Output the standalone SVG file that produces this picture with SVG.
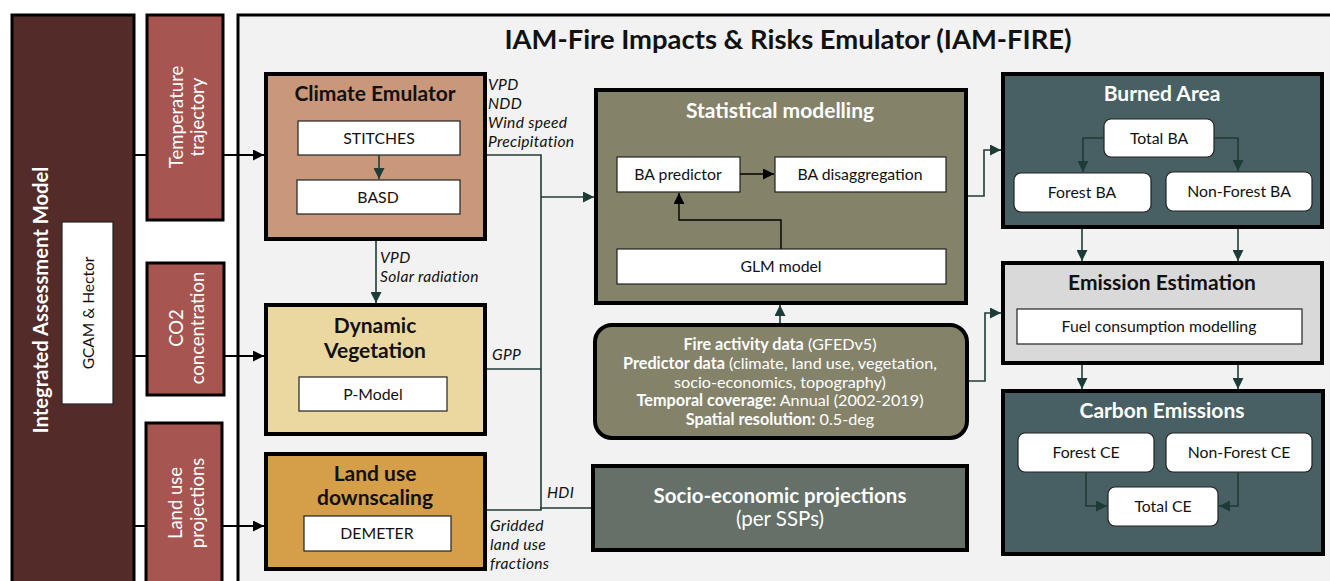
<svg xmlns="http://www.w3.org/2000/svg" width="1330" height="581" viewBox="0 0 1330 581">
<defs>
<marker id="ab" viewBox="0 0 10 10" refX="10" refY="5" markerWidth="11" markerHeight="11" markerUnits="userSpaceOnUse" orient="auto"><path d="M0,0 L10,5 L0,10 z" fill="#000"/></marker>
<marker id="at" viewBox="0 0 10 10" refX="10" refY="5" markerWidth="11" markerHeight="11" markerUnits="userSpaceOnUse" orient="auto"><path d="M0,0 L10,5 L0,10 z" fill="#1e3c37"/></marker>
<style>
text{font-family:"Lato","Liberation Sans",sans-serif;}
.big{stroke:#000;stroke-width:4;}
.inner{fill:#fff;stroke:#222;stroke-width:1.2;}
.t{font-size:15.8px;fill:#111;text-anchor:middle;}
.h{font-size:21px;font-weight:bold;text-anchor:middle;}
.w{fill:#fff;}
.k{fill:#111;}
.lab{font-size:15.6px;font-style:italic;fill:#111;letter-spacing:0.3px;}
.rot{font-size:18.5px;fill:#fff;text-anchor:middle;dominant-baseline:central;}
.cb{fill:none;stroke:#000;stroke-width:2;}
.ct{fill:none;stroke:#1e3c37;stroke-width:1.6;}
</style>
</defs>
<rect width="1330" height="581" fill="#fff"/>

<g id="panel">
<rect x="238" y="15" width="1100" height="580" fill="#f2f2f2" stroke="#000" stroke-width="3"/>
<text x="788" y="49" style="font-size:27.4px;font-weight:bold;text-anchor:middle;fill:#111;">IAM-Fire Impacts &amp; Risks Emulator (IAM-FIRE)</text>
</g>

<g id="iam">
<rect x="12" y="15" width="122" height="580" fill="#532b28" stroke="#000" stroke-width="3"/>
<text transform="translate(40,300) rotate(-90)" style="font-size:20.2px;font-weight:bold;fill:#fff;text-anchor:middle;dominant-baseline:central;">Integrated Assessment Model</text>
</g>
<g id="gcam">
<rect x="62" y="222" width="51" height="182" fill="#fff" stroke="#222" stroke-width="1.2"/>
<text transform="translate(88,313) rotate(-90)" style="font-size:15.5px;fill:#111;text-anchor:middle;dominant-baseline:central;">GCAM &amp; Hector</text>
</g>

<g id="temp">
<rect x="147" y="15" width="76" height="205" fill="#a65550" stroke="#000" stroke-width="3"/>
<text transform="translate(176,117) rotate(-90)" class="rot">Temperature</text>
<text transform="translate(197,117) rotate(-90)" class="rot">trajectory</text>
</g>
<g id="co2">
<rect x="147" y="263" width="77" height="132" fill="#a65550" stroke="#000" stroke-width="3"/>
<text transform="translate(176,328) rotate(-90)" class="rot">CO2</text>
<text transform="translate(197,328) rotate(-90)" class="rot">concentration</text>
</g>
<g id="landproj">
<rect x="146" y="423" width="76" height="180" fill="#a65550" stroke="#000" stroke-width="3"/>
<text transform="translate(175,503) rotate(-90)" class="rot">Land use</text>
<text transform="translate(197,503) rotate(-90)" class="rot">projections</text>
</g>

<g id="climate">
<rect x="266" y="74" width="219" height="165" fill="#c9977a" class="big"/>
<text x="375" y="101" class="h k">Climate Emulator</text>
<rect x="298" y="121" width="162" height="34" class="inner"/>
<text x="379" y="143.5" class="t">STITCHES</text>
<rect x="297" y="180" width="163" height="34" class="inner"/>
<text x="378" y="202.5" class="t">BASD</text>
</g>

<g id="dynveg">
<rect x="266" y="305" width="219" height="129" fill="#ebd8a0" class="big"/>
<text x="375" y="333" class="h k">Dynamic</text>
<text x="375" y="358" class="h k">Vegetation</text>
<rect x="299" y="377" width="148" height="34" class="inner"/>
<text x="373" y="399.5" class="t">P-Model</text>
</g>

<g id="landds">
<rect x="266" y="454" width="219" height="115" fill="#d59e48" class="big"/>
<text x="375" y="481" class="h k">Land use</text>
<text x="375" y="505" class="h k">downscaling</text>
<rect x="304" y="516" width="147" height="35" class="inner"/>
<text x="377" y="539" class="t">DEMETER</text>
</g>

<g id="labels">
<text x="488" y="90" class="lab">VPD</text>
<text x="488" y="109" class="lab">NDD</text>
<text x="488" y="128" class="lab">Wind speed</text>
<text x="488" y="147" class="lab">Precipitation</text>
<text x="380" y="263" class="lab">VPD</text>
<text x="380" y="282" class="lab">Solar radiation</text>
<text x="492" y="360" class="lab">GPP</text>
<text x="547" y="498" class="lab">HDI</text>
<text x="490" y="531" class="lab">Gridded</text>
<text x="490" y="550" class="lab">land use</text>
<text x="490" y="569" class="lab">fractions</text>
</g>

<g id="stat">
<rect x="596" y="90" width="370" height="213" fill="#84836a" class="big"/>
<text x="780" y="118" class="h w">Statistical modelling</text>
<rect x="617" y="157" width="123" height="35" class="inner"/>
<text x="678" y="180" class="t">BA predictor</text>
<rect x="775" y="157" width="171" height="35" class="inner"/>
<text x="860" y="180" class="t">BA disaggregation</text>
<rect x="617" y="249" width="329" height="35" class="inner"/>
<text x="781" y="272" class="t">GLM model</text>
</g>

<g id="fire">
<rect x="595" y="325" width="372" height="113" rx="17" fill="#84836a" class="big"/>
<g style="font-size:16.2px;fill:#fff;text-anchor:middle;">
<text x="780" y="349.5"><tspan font-weight="bold">Fire activity data</tspan> (GFEDv5)</text>
<text x="780" y="368.5"><tspan font-weight="bold">Predictor data</tspan> (climate, land use, vegetation,</text>
<text x="780" y="387.5">socio-economics, topography)</text>
<text x="780" y="405.5"><tspan font-weight="bold">Temporal coverage:</tspan> Annual (2002-2019)</text>
<text x="780" y="424.5"><tspan font-weight="bold">Spatial resolution:</tspan> 0.5-deg</text>
</g>
</g>

<g id="socio">
<rect x="593" y="466" width="374" height="84" fill="#647068" class="big"/>
<text x="780" y="503" style="font-size:20.5px;font-weight:bold;fill:#fff;text-anchor:middle;">Socio-economic projections</text>
<text x="780" y="526" style="font-size:20.5px;fill:#fff;text-anchor:middle;">(per SSPs)</text>
</g>

<g id="burned">
<rect x="1003" y="74" width="319" height="153" fill="#485f63" class="big"/>
<text x="1162" y="101" class="h w">Burned Area</text>
<rect x="1104" y="119" width="110" height="38" rx="7" class="inner"/>
<text x="1159" y="143.5" class="t">Total BA</text>
<rect x="1014" y="173" width="137" height="39" rx="7" class="inner"/>
<text x="1082" y="198" class="t">Forest BA</text>
<rect x="1166" y="172" width="146" height="39" rx="7" class="inner"/>
<text x="1239" y="197" class="t">Non-Forest BA</text>
</g>

<g id="emission">
<rect x="1003" y="263" width="319" height="100" fill="#d9d9d9" class="big"/>
<text x="1162" y="290" class="h k">Emission Estimation</text>
<rect x="1017" y="309" width="285" height="35" fill="#fff" stroke="#222" stroke-width="1.2"/>
<text x="1159" y="332" class="t">Fuel consumption modelling</text>
</g>

<g id="carbon">
<rect x="1003" y="391" width="320" height="163" fill="#485f63" class="big"/>
<text x="1162" y="418" class="h w">Carbon Emissions</text>
<rect x="1018" y="433" width="136" height="39" rx="7" class="inner"/>
<text x="1086" y="458" class="t">Forest CE</text>
<rect x="1166" y="433" width="146" height="39" rx="7" class="inner"/>
<text x="1239" y="458" class="t">Non-Forest CE</text>
<rect x="1108" y="487" width="110" height="39" rx="7" class="inner"/>
<text x="1163" y="512" class="t">Total CE</text>
</g>

<g id="connectors">
<path d="M134 155 H147" class="cb"/>
<path d="M223 155 H264" class="cb" marker-end="url(#ab)"/>
<path d="M134 356 H147" class="cb"/>
<path d="M224 356 H264" class="cb" marker-end="url(#ab)"/>
<path d="M134 526 H146" class="cb"/>
<path d="M222 526 H264" class="cb" marker-end="url(#ab)"/>
<path d="M379 155 V179" class="ct" marker-end="url(#at)"/>
<path d="M376 241 V303" class="ct" marker-end="url(#at)"/>
<path d="M487 155 H541 V509" class="ct"/>
<path d="M541 197 H594" class="ct" marker-end="url(#at)"/>
<path d="M487 369 H541" class="ct"/>
<path d="M487 510 H541 V508 H591" class="ct"/>
<path d="M740 174 H774" style="fill:none;stroke:#000;stroke-width:1.4" marker-end="url(#ab)"/>
<path d="M781 249 V220 H679 V193" style="fill:none;stroke:#000;stroke-width:1.4" marker-end="url(#ab)"/>
<path d="M780 323 V305" class="ct" marker-end="url(#at)"/>
<path d="M968 196 H984 V150 H1001" class="ct" marker-end="url(#at)"/>
<path d="M969 381 H985 V313 H1001" class="ct" marker-end="url(#at)"/>
<path d="M1104 138 H1083 V172" class="ct" marker-end="url(#at)"/>
<path d="M1214 138 H1238 V171" class="ct" marker-end="url(#at)"/>
<path d="M1082 229 V261" class="ct" marker-end="url(#at)"/>
<path d="M1238 229 V261" class="ct" marker-end="url(#at)"/>
<path d="M1082 365 V389" class="ct" marker-end="url(#at)"/>
<path d="M1238 365 V389" class="ct" marker-end="url(#at)"/>
<path d="M1086 472 V506 H1107" class="ct" marker-end="url(#at)"/>
<path d="M1238 472 V506 H1219" class="ct" marker-end="url(#at)"/>
</g>
</svg>
